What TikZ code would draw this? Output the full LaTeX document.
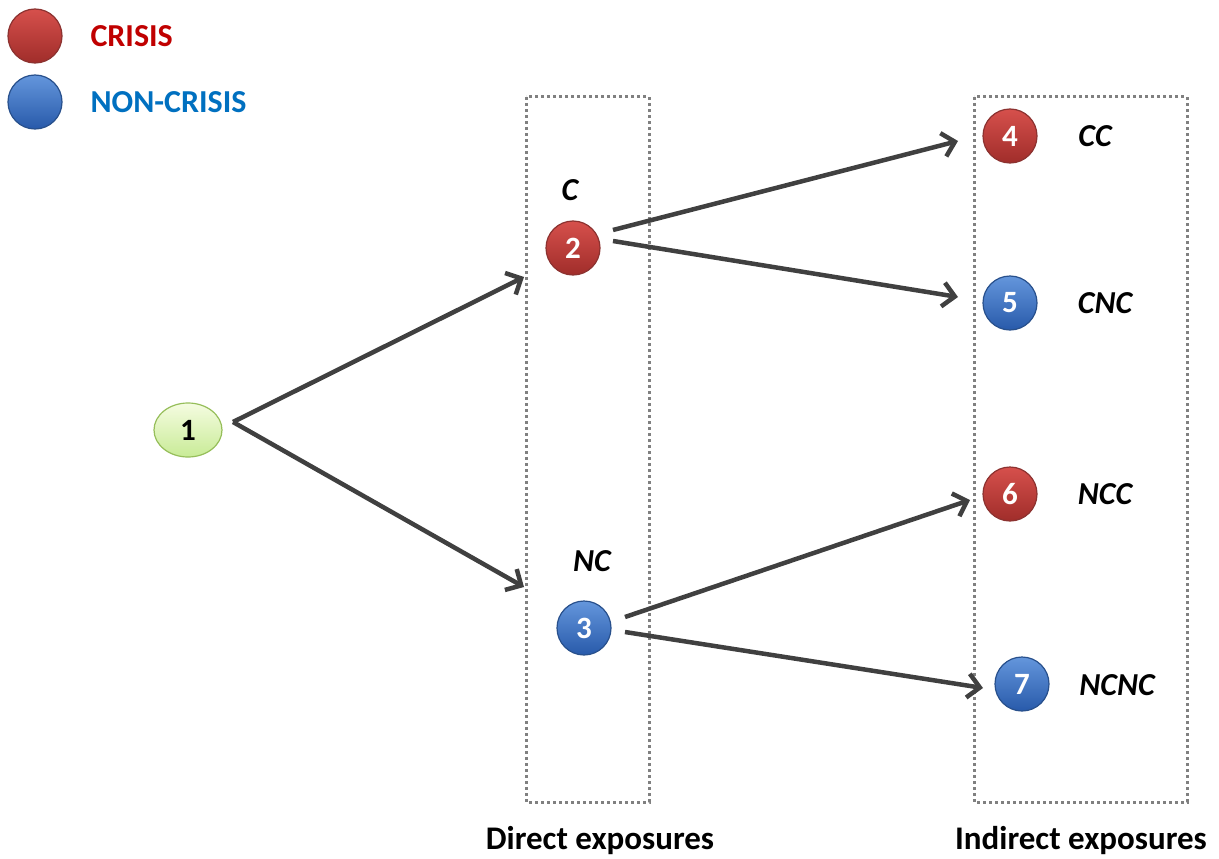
\documentclass[tikz,border=0pt]{standalone}
\usepackage{fontspec}
\setmainfont{Carlito}
\usetikzlibrary{arrows.meta,shapes.geometric}
\definecolor{crisisred}{RGB}{192,0,0}
\definecolor{ncblue}{RGB}{0,112,192}
\definecolor{arrowgray}{RGB}{64,64,64}
\definecolor{boxgray}{RGB}{128,128,128}
\tikzset{
  redball/.style={circle, minimum size=54pt, inner sep=0pt, draw={rgb,255:red,140;green,50;blue,48}, line width=1.2pt, top color={rgb,255:red,214;green,80;blue,76}, bottom color={rgb,255:red,160;green,45;blue,42}, text=white, font=\bfseries\fontsize{31}{34}\selectfont},
  blueball/.style={circle, minimum size=54pt, inner sep=0pt, draw={rgb,255:red,40;green,80;blue,140}, line width=1.2pt, top color={rgb,255:red,100;green,150;blue,220}, bottom color={rgb,255:red,40;green,90;blue,170}, text=white, font=\bfseries\fontsize{31}{34}\selectfont},
  greenball/.style={ellipse, minimum width=68pt, minimum height=54pt, inner sep=0pt, draw={rgb,255:red,150;green,190;blue,90}, line width=1.2pt, top color={rgb,255:red,245;green,252;blue,225}, bottom color={rgb,255:red,200;green,235;blue,150}, text=black, font=\bfseries\fontsize{31}{34}\selectfont},
  conn/.style={draw=arrowgray, line width=4.5pt, -{Straight Barb[length=12pt,width=24pt,line width=4.5pt]}},
  dotbox/.style={draw=boxgray, line width=3pt, dash pattern=on 3pt off 3pt},
  lab/.style={font=\bfseries\itshape\fontsize{32}{36}\selectfont},
  bottomlab/.style={font=\bfseries\fontsize{33}{36}\selectfont},
  legtext/.style={font=\bfseries\fontsize{32}{36}\selectfont, anchor=west}
}
\begin{document}
\begin{tikzpicture}[x=1pt,y=-1pt]
\useasboundingbox (0,0) rectangle (1219,859);
% legend
\node[redball] (lr) at (35,36) {};
\node[blueball] (lb) at (35,102) {};
\node[legtext, text=crisisred] (lrt) at (87,36) {CRISIS};
\node[legtext, text=ncblue] (lbt) at (87,102) {NON-CRISIS};
% boxes
\draw[dotbox] (526,97) rectangle (649,802);
\draw[dotbox] (974,97) rectangle (1187,802);
% nodes
\node[greenball] (n1) at (188,430) {1};
\node[redball] (n2) at (573,248) {2};
\node[blueball] (n3) at (584,628) {3};
\node[redball] (n4) at (1010,136) {4};
\node[blueball] (n5) at (1010,303) {5};
\node[redball] (n6) at (1010,494) {6};
\node[blueball] (n7) at (1022,684) {7};
% labels
\node[lab] (l2) at (570,190) {C};
\node[lab] (l3) at (592,561) {NC};
\node[lab] (l4) at (1095,136) {CC};
\node[lab] (l5) at (1105,303) {CNC};
\node[lab] (l6) at (1105,494) {NCC};
\node[lab] (l7) at (1117,685) {NCNC};
\node[bottomlab] (d) at (600,841) {Direct exposures};
\node[bottomlab] (i) at (1081,841) {Indirect exposures};
% connectors
\coordinate (s1) at (233,422);
\coordinate (e12) at (524,277);
\coordinate (e13) at (524,587);
\draw[conn] (s1) -- (e12);
\draw[conn] (s1) -- (e13);
\coordinate (s2a) at (613,230);
\coordinate (s2b) at (613,241);
\coordinate (e24) at (958,141);
\coordinate (e25) at (958,297);
\draw[conn] (s2a) -- (e24);
\draw[conn] (s2b) -- (e25);
\coordinate (s3a) at (625,617);
\coordinate (s3b) at (625,632);
\coordinate (e36) at (970,500);
\coordinate (e37) at (983,688);
\draw[conn] (s3a) -- (e36);
\draw[conn] (s3b) -- (e37);
\end{tikzpicture}
\end{document}
